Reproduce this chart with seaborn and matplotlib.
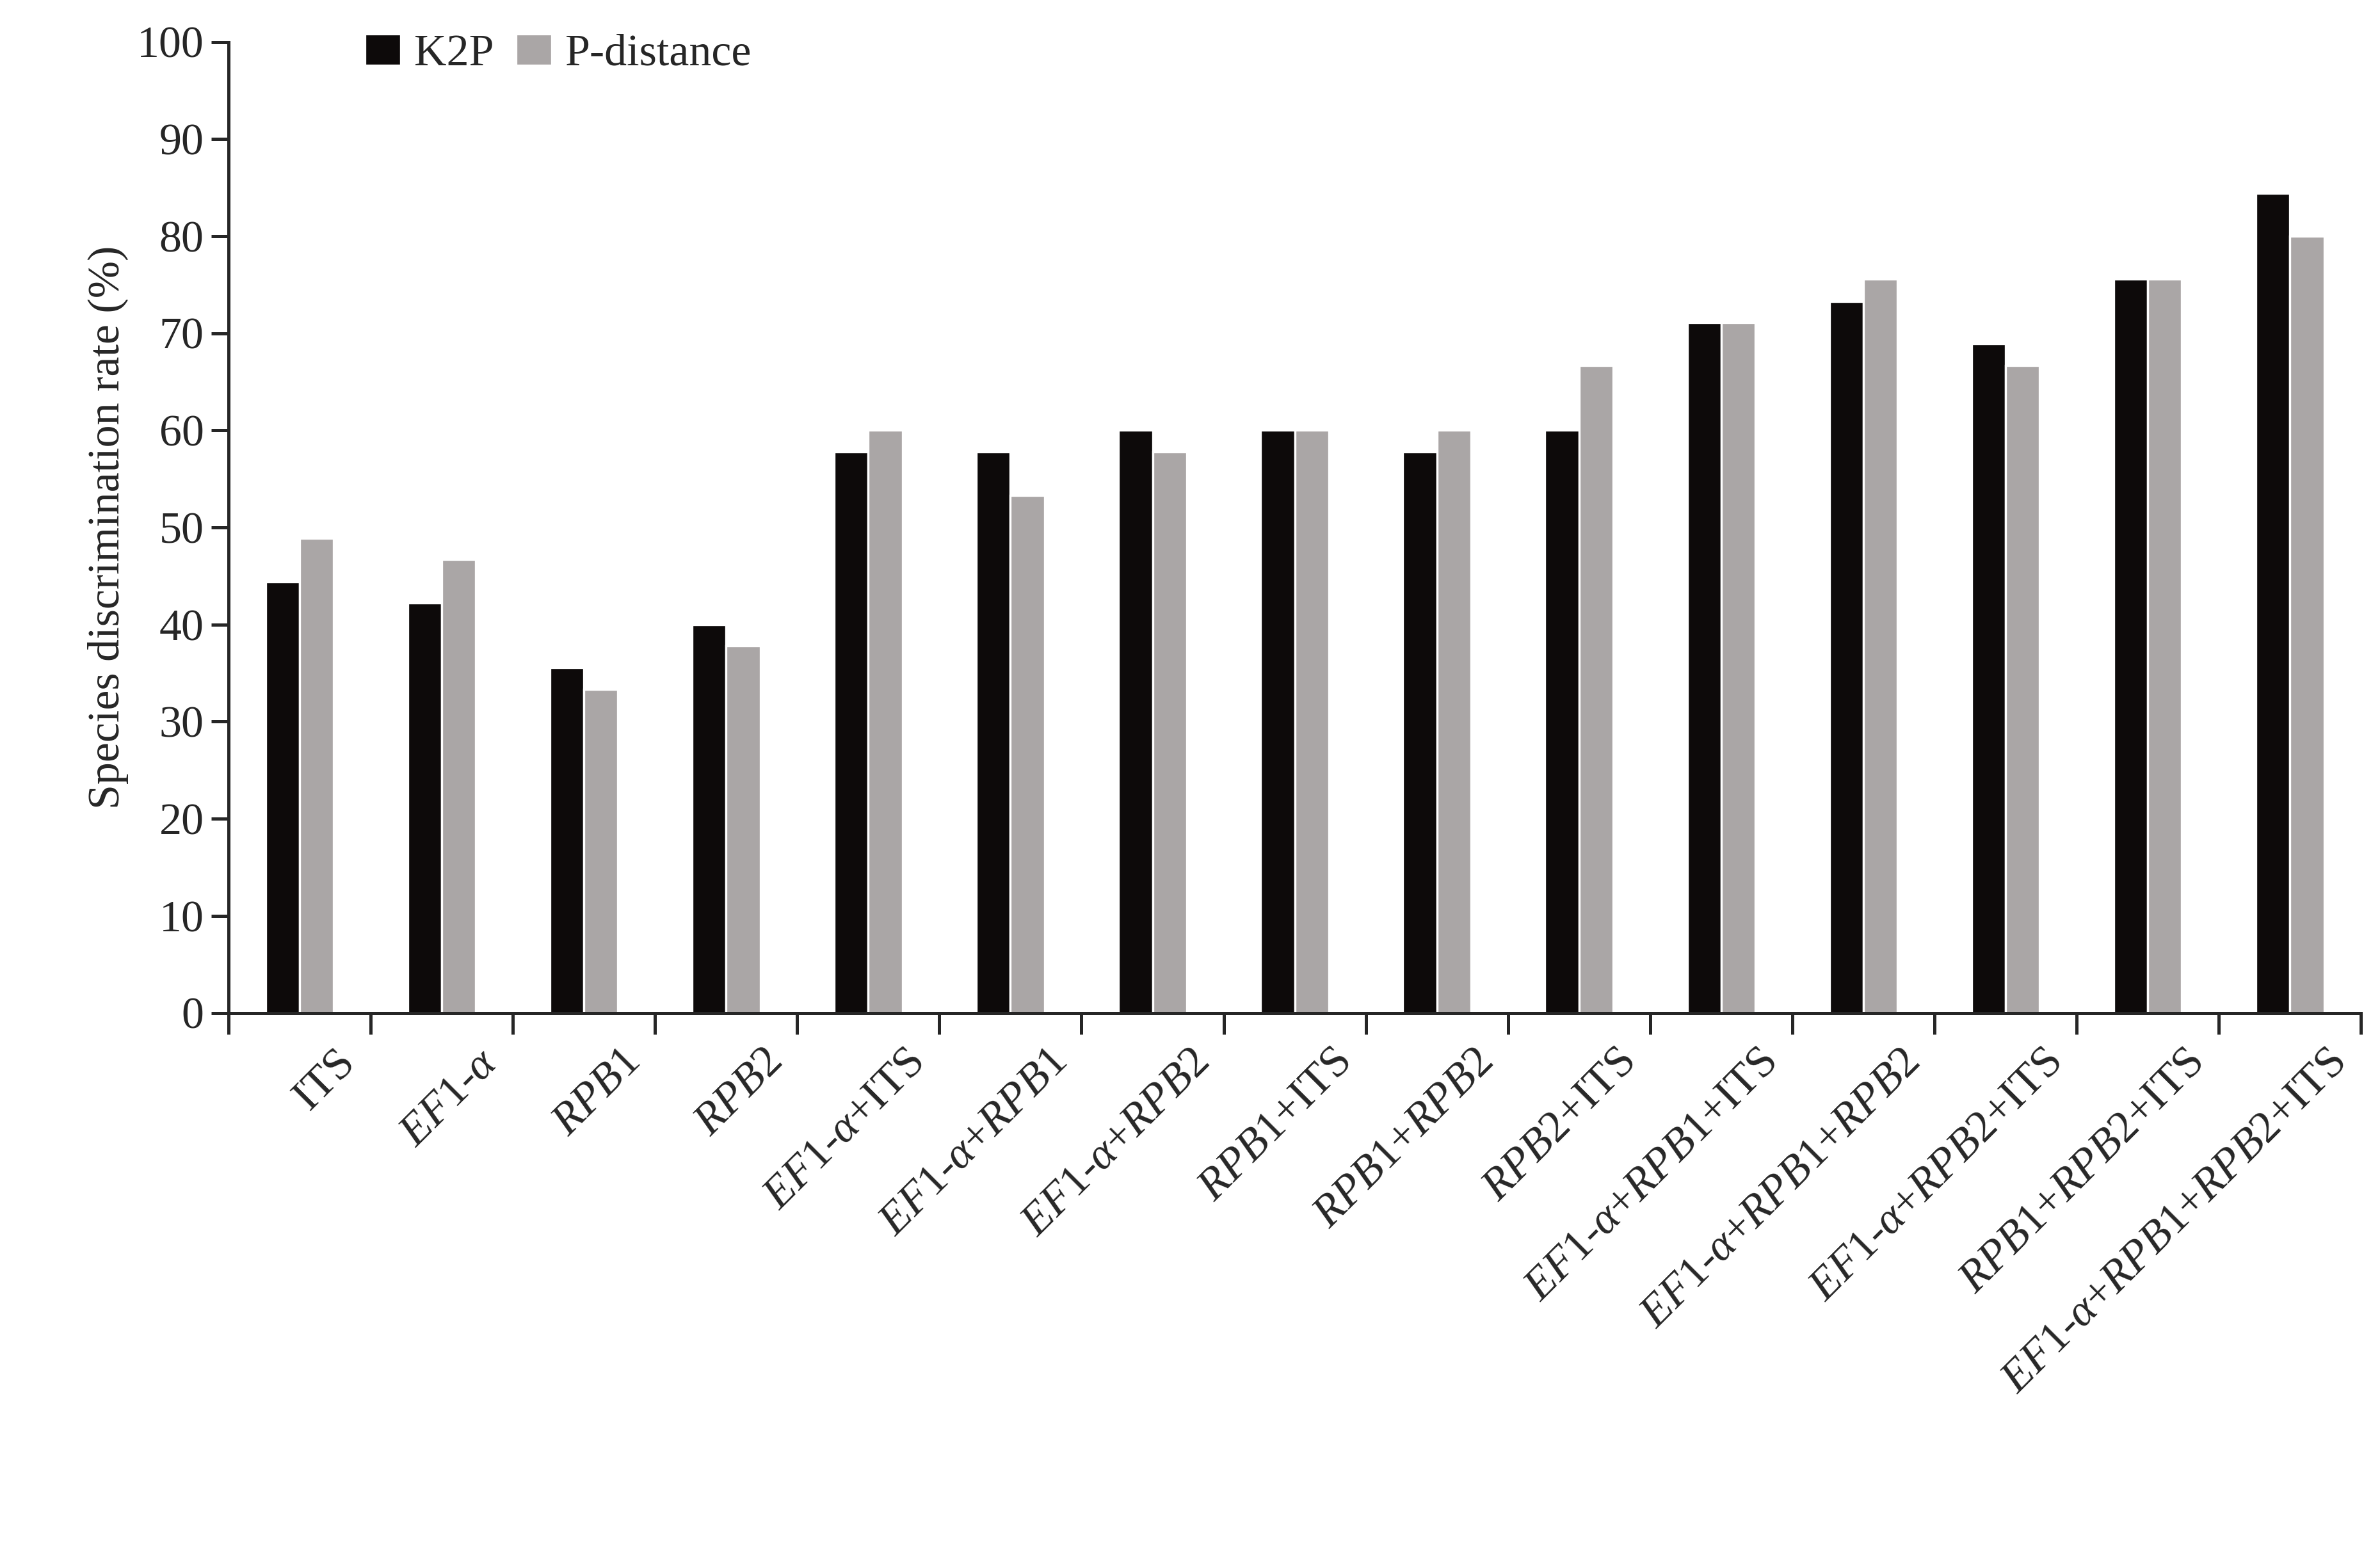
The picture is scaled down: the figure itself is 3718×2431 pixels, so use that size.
import matplotlib
matplotlib.use("Agg")
import matplotlib.pyplot as plt
import seaborn as sns
import pandas as pd
import numpy as np

sns.set_style("ticks")
plt.rcParams['font.family'] = ['Liberation Serif', 'DejaVu Serif']
plt.rcParams['mathtext.fontset'] = 'custom'
plt.rcParams['mathtext.rm'] = 'Liberation Serif'
plt.rcParams['mathtext.it'] = 'Liberation Serif:italic'

E = r"$\mathit{EF1}$-$\mathit{\alpha}$"
R1 = r"$\mathit{RPB1}$"
R2 = r"$\mathit{RPB2}$"
categories = ["ITS", E, R1, R2, E+"+ITS", E+"+"+R1, E+"+"+R2, R1+"+ITS", R1+"+"+R2,
              R2+"+ITS", E+"+"+R1+"+ITS", E+"+"+R1+"+"+R2, E+"+"+R2+"+ITS",
              R1+"+"+R2+"+ITS", E+"+"+R1+"+"+R2+"+ITS"]
k2p = [44.4, 42.2, 35.6, 40.0, 57.8, 57.8, 60.0, 60.0, 57.8, 60.0, 71.1, 73.3, 68.9, 75.6, 84.4]
pdist = [48.9, 46.7, 33.3, 37.8, 60.0, 53.3, 57.8, 60.0, 60.0, 66.7, 71.1, 75.6, 66.7, 75.6, 80.0]

df = pd.DataFrame({"cat": categories * 2, "val": k2p + pdist,
                   "method": ["K2P"] * 15 + ["P-distance"] * 15})

fig = plt.figure(figsize=(3718/240, 2431/240), dpi=240)
ax = fig.add_axes([0.096, 0.349, 0.896, 0.624])
sns.barplot(data=df, x="cat", y="val", hue="method", order=categories,
            palette=["#0d0a0a", "#aaa6a6"], width=0.48, ax=ax, saturation=1)
ax.set_ylim(0, 100)
ax.set_xlim(-0.5, 14.5)
ax.set_yticks(np.arange(0, 101, 10))
ax.tick_params(axis='y', labelsize=21, length=8, width=1.5)
ax.set_xticks(np.arange(-0.5, 15, 1), minor=False)
ax.set_xticklabels([])
ax.tick_params(axis='x', length=10, width=1.5)
for i, c in enumerate(categories):
    ax.text(i + 0.25, -3, c, rotation=45, ha='right', va='top', fontsize=21,
            rotation_mode='anchor', transform=ax.transData)
ax.set_xlabel("")
ax.set_ylabel("Species discrimination rate (%)", fontsize=21)
for s in ['top', 'right']:
    ax.spines[s].set_visible(False)
for s in ['left', 'bottom']:
    ax.spines[s].set_linewidth(1.5)
ax.legend(loc='upper left', bbox_to_anchor=(0.045, 1.05), frameon=False, fontsize=21,
          handlelength=0.8, handletextpad=0.3, ncol=2, columnspacing=0.5)
fig.savefig("out.png", dpi=240)
